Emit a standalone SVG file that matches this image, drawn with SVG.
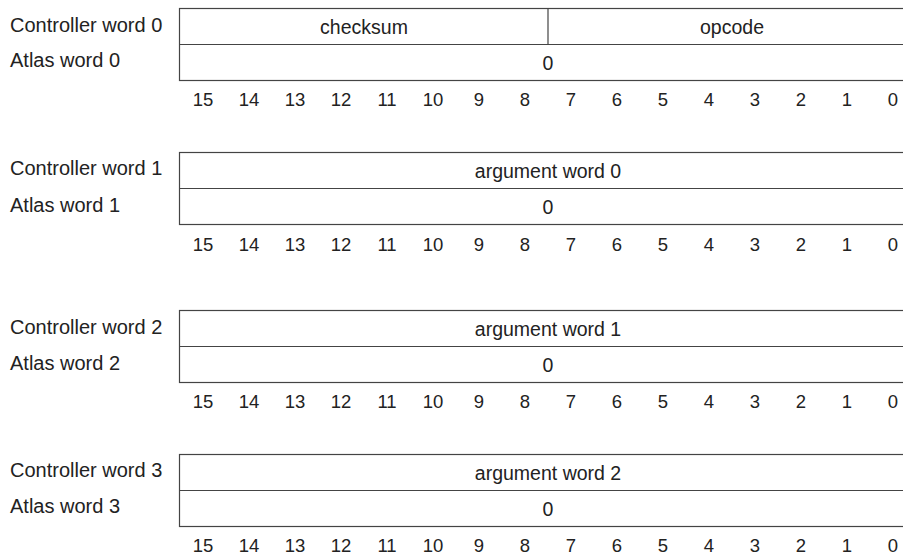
<svg xmlns="http://www.w3.org/2000/svg" width="903" height="554" viewBox="0 0 903 554">
<style>
.lbl{font-family:"Liberation Sans",Arial,sans-serif;font-size:20px;fill:#222}
.fld{font-family:"Liberation Sans",Arial,sans-serif;font-size:19.5px;fill:#222;text-anchor:middle}
.bit{font-family:"Liberation Sans",Arial,sans-serif;font-size:18.5px;fill:#222;text-anchor:middle}
.box{fill:#fff;stroke:#444;stroke-width:1.2}
</style>
<defs>
<g id="bits">
<text class="bit" x="203">15</text><text class="bit" x="249">14</text><text class="bit" x="295">13</text><text class="bit" x="341">12</text>
<text class="bit" x="387">11</text><text class="bit" x="433">10</text><text class="bit" x="479">9</text><text class="bit" x="525">8</text>
<text class="bit" x="571">7</text><text class="bit" x="617">6</text><text class="bit" x="663">5</text><text class="bit" x="709">4</text>
<text class="bit" x="755">3</text><text class="bit" x="801">2</text><text class="bit" x="847">1</text><text class="bit" x="893">0</text>
</g>
</defs>
<g id="word0">
<text class="lbl" x="10" y="32">Controller word 0</text>
<text class="lbl" x="10" y="67">Atlas word 0</text>
<rect class="box" x="179.5" y="8.5" width="740" height="72"/>
<line class="box" x1="179.5" y1="44.5" x2="903" y2="44.5"/>
<line class="box" x1="548" y1="8.5" x2="548" y2="44.5"/>
<text class="fld" x="364" y="34">checksum</text>
<text class="fld" x="732" y="34">opcode</text>
<text class="fld" x="548" y="70">0</text>
<use href="#bits" y="106"/>
</g>
<g id="word1">
<text class="lbl" x="10" y="175">Controller word 1</text>
<text class="lbl" x="10" y="212">Atlas word 1</text>
<rect class="box" x="179.5" y="152.5" width="740" height="72"/>
<line class="box" x1="179.5" y1="188.5" x2="903" y2="188.5"/>
<text class="fld" x="548" y="178">argument word 0</text>
<text class="fld" x="548" y="214">0</text>
<use href="#bits" y="251"/>
</g>
<g id="word2">
<text class="lbl" x="10" y="334">Controller word 2</text>
<text class="lbl" x="10" y="370">Atlas word 2</text>
<rect class="box" x="179.5" y="310.5" width="740" height="72"/>
<line class="box" x1="179.5" y1="346.5" x2="903" y2="346.5"/>
<text class="fld" x="548" y="336">argument word 1</text>
<text class="fld" x="548" y="372">0</text>
<use href="#bits" y="408"/>
</g>
<g id="word3">
<text class="lbl" x="10" y="477">Controller word 3</text>
<text class="lbl" x="10" y="513">Atlas word 3</text>
<rect class="box" x="179.5" y="454.5" width="740" height="72"/>
<line class="box" x1="179.5" y1="490.5" x2="903" y2="490.5"/>
<text class="fld" x="548" y="480">argument word 2</text>
<text class="fld" x="548" y="516">0</text>
<use href="#bits" y="552"/>
</g>
</svg>
